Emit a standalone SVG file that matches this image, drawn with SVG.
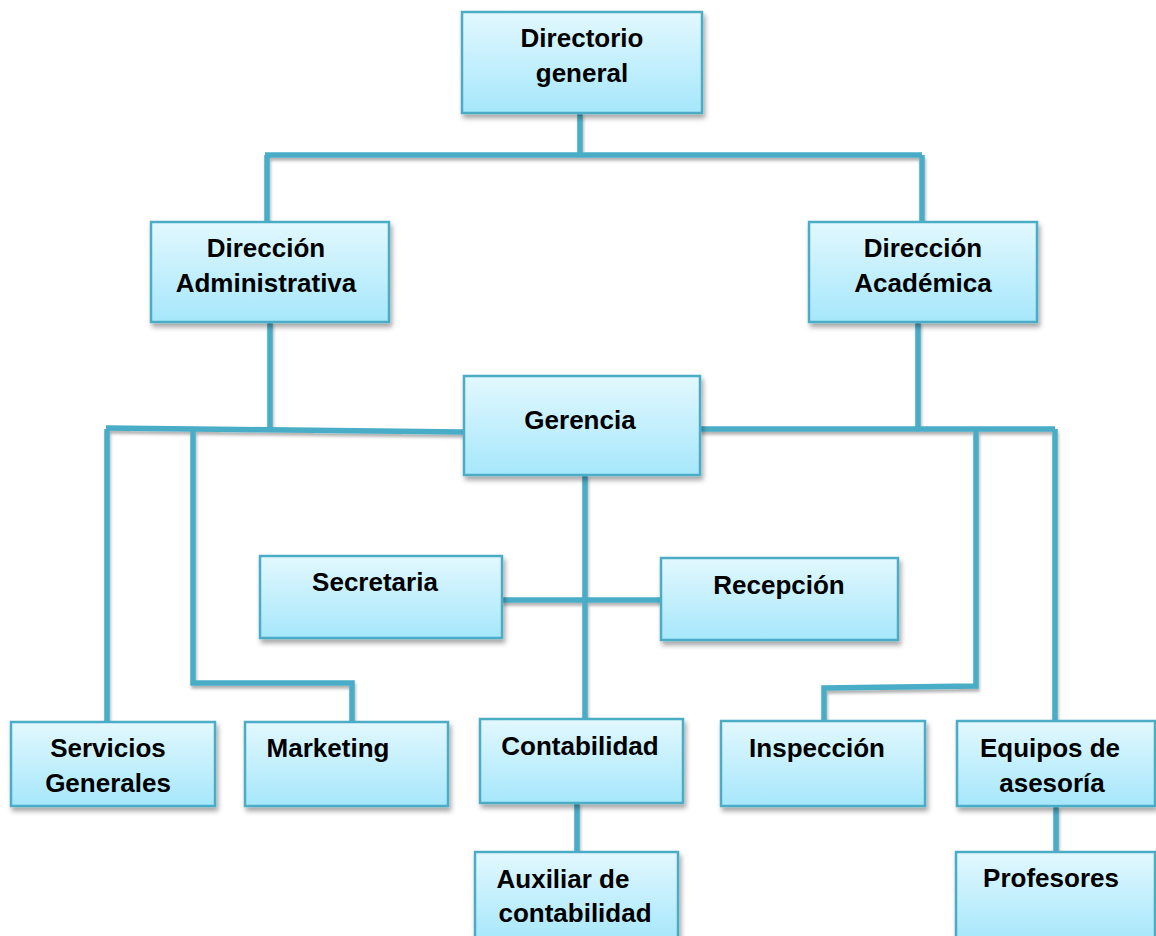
<svg xmlns="http://www.w3.org/2000/svg" width="1156" height="936" viewBox="0 0 1156 936">
<defs>
<linearGradient id="g" x1="0" y1="0" x2="0" y2="1">
<stop offset="0" stop-color="#e2f8fe"/>
<stop offset="1" stop-color="#a6e7fb"/>
</linearGradient>
<filter id="sh" x="-10%" y="-10%" width="125%" height="130%">
<feDropShadow dx="2" dy="4" stdDeviation="2.5" flood-color="#000" flood-opacity="0.35"/>
</filter>
<filter id="shl" filterUnits="userSpaceOnUse" x="0" y="0" width="1156" height="936">
<feDropShadow dx="1" dy="3" stdDeviation="1.5" flood-color="#000" flood-opacity="0.3"/>
</filter>
</defs>
<style>
.box{fill:url(#g);stroke:#4bacc6;stroke-width:2.5;filter:url(#sh)}
.t{font-family:"Liberation Sans",Arial,sans-serif;font-weight:bold;font-size:26px;fill:#000;text-anchor:middle}
.c{fill:none;stroke:#4aadc7;stroke-width:5.5}
</style>
<rect width="1156" height="936" fill="#fff"/>
<g id="connectors" filter="url(#shl)">
<path class="c" d="M580 113V155"/>
<path class="c" d="M265 155H922"/>
<path class="c" d="M267 155V222M922 155V222"/>
<path class="c" d="M270 322V430"/>
<path class="c" d="M106 428L464 432"/>
<path class="c" d="M107 429V722"/>
<path class="c" d="M193 430V683H352V722"/>
<path class="c" d="M918 322V429"/>
<path class="c" d="M700 429H1055"/>
<path class="c" d="M976 430V686L824 688V722"/>
<path class="c" d="M1055 429V722"/>
<path class="c" d="M585 475V720"/>
<path class="c" d="M502 600H661"/>
<path class="c" d="M577 803V852"/>
<path class="c" d="M1056 806V852"/>
</g>
<g id="n-directorio"><rect class="box" x="462" y="12" width="240" height="101"/><text class="t" x="582" y="47">Directorio</text><text class="t" x="582" y="82">general</text></g>
<g id="n-admin"><rect class="box" x="151" y="222" width="238" height="100"/><text class="t" x="266" y="257">Dirección</text><text class="t" x="266" y="292">Administrativa</text></g>
<g id="n-academica"><rect class="box" x="809" y="222" width="228" height="100"/><text class="t" x="923" y="257">Dirección</text><text class="t" x="923" y="292">Académica</text></g>
<g id="n-gerencia"><rect class="box" x="464" y="376" width="236" height="99"/><text class="t" x="580" y="429">Gerencia</text></g>
<g id="n-secretaria"><rect class="box" x="260" y="556" width="242" height="82"/><text class="t" x="375" y="591">Secretaria</text></g>
<g id="n-recepcion"><rect class="box" x="661" y="558" width="237" height="82"/><text class="t" x="779" y="594">Recepción</text></g>
<g id="n-servicios"><rect class="box" x="11" y="722" width="204" height="84"/><text class="t" x="108" y="757">Servicios</text><text class="t" x="108" y="792">Generales</text></g>
<g id="n-marketing"><rect class="box" x="245" y="722" width="203" height="84"/><text class="t" x="328" y="757">Marketing</text></g>
<g id="n-contabilidad"><rect class="box" x="480" y="719" width="203" height="84"/><text class="t" x="580" y="755">Contabilidad</text></g>
<g id="n-inspeccion"><rect class="box" x="721" y="721" width="204" height="85"/><text class="t" x="817" y="757">Inspección</text></g>
<g id="n-equipos"><rect class="box" x="957" y="721" width="198" height="85"/><text class="t" x="1050" y="757">Equipos de</text><text class="t" x="1052" y="792">asesoría</text></g>
<g id="n-auxiliar"><rect class="box" x="475" y="852" width="203" height="90"/><text class="t" x="563" y="888">Auxiliar de</text><text class="t" x="575" y="922">contabilidad</text></g>
<g id="n-profesores"><rect class="box" x="956" y="852" width="199" height="90"/><text class="t" x="1051" y="887">Profesores</text></g>
</svg>
